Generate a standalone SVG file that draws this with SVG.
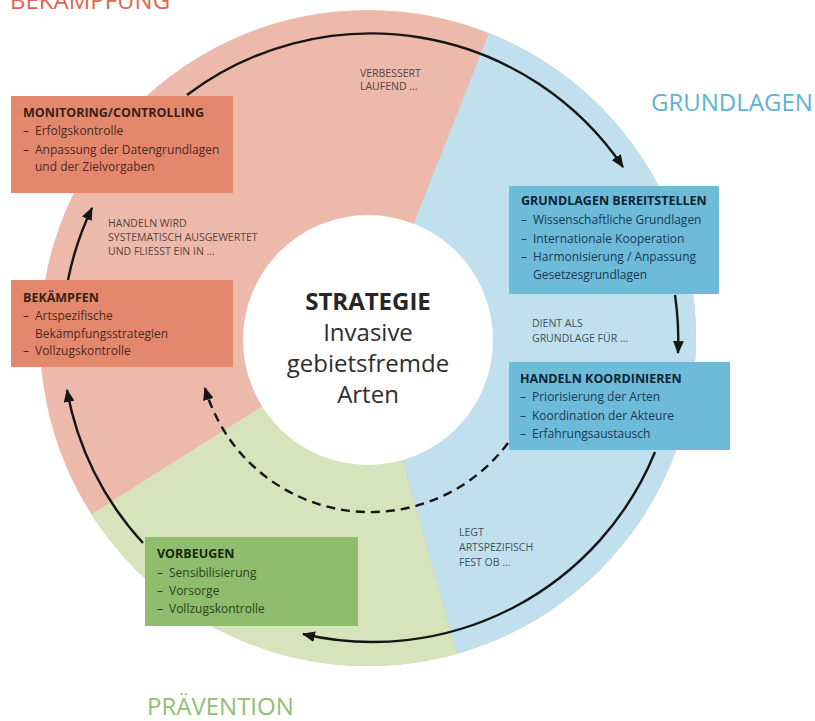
<svg xmlns="http://www.w3.org/2000/svg" width="815" height="721" viewBox="0 0 815 721">
<style>
text{font-family:"Open Sans","Liberation Sans",sans-serif;}
.title{font-size:24px;}
.bh{font-size:12.5px;font-weight:bold;}
.bt{font-size:12px;}
.lbl{font-size:10.5px;}
.pinkbox{fill:#e4886d;}
.bluebox{fill:#6dbad9;}
.greenbox{fill:#8ebd6d;}
.pinkbox-t{fill:#3a1f18;}
.pinkbox-b{fill:#4e2a20;}
.bluebox-t{fill:#0f2431;}
.bluebox-b{fill:#1a3b50;}
.greenbox-t{fill:#18260e;}
.greenbox-b{fill:#2c421c;}
.arc{fill:none;stroke:#151515;stroke-width:2.4;marker-end:url(#ah);}
.dash{stroke-dasharray:9 6;}
</style>
<defs>
<clipPath id="cc"><circle cx="368" cy="338" r="328"/></clipPath>
<marker id="ah" viewBox="0 0 12 10" refX="11" refY="5" markerUnits="userSpaceOnUse" markerWidth="13" markerHeight="11" orient="auto">
<path d="M0,0 L12,5 L0,10 Z" fill="#151515"/>
</marker>
</defs>
<rect width="815" height="721" fill="#ffffff"/>
<g id="wheel">
<circle cx="368" cy="338" r="328" fill="#ecb9ab"/>
<g clip-path="url(#cc)">
<polygon points="368,339 506,-10 815,-10 815,721 476,721" fill="#bfe0ec"/>
<polygon points="368,339 476,721 0,721 0,572" fill="#d6e3bb"/>
</g>
<circle cx="368" cy="340" r="125" fill="#ffffff"/>
</g>
<g id="sector-titles">
<text x="10" y="9" class="title" fill="#e0654e">BEKÄMPFUNG</text>
<text x="651" y="111" class="title" fill="#5cb3d2">GRUNDLAGEN</text>
<text x="147" y="715" class="title" fill="#8fbf72">PRÄVENTION</text>
</g>
<g id="center">
<text x="368" y="310" text-anchor="middle" font-size="24" font-weight="bold" fill="#262626">STRATEGIE</text>
<text x="368" y="341" text-anchor="middle" font-size="24" fill="#2e2e2e">Invasive</text>
<text x="368" y="372" text-anchor="middle" font-size="24" fill="#2e2e2e">gebietsfremde</text>
<text x="368" y="403" text-anchor="middle" font-size="24" fill="#2e2e2e">Arten</text>
</g>
<g id="connectors">
<path class="arc" d="M187,95 A305,305 0 0 1 623,167"/>
<path class="arc" d="M675,295 A310,310 0 0 1 678,353"/>
<path class="arc" d="M655,452 A305,305 0 0 1 303,634"/>
<path class="arc" d="M143,543 A305,305 0 0 1 67,390"/>
<path class="arc" d="M68,280 A305,305 0 0 1 92,208"/>
<path class="arc dash" d="M508,443 A172,172 0 0 1 205,388"/>
</g>
<g id="labels">
<text class="lbl" fill="#5a4440"><tspan x="360" y="77">VERBESSERT</tspan><tspan x="360" y="90">LAUFEND ...</tspan></text>
<text class="lbl" fill="#5a4440"><tspan x="108" y="227">HANDELN WIRD</tspan><tspan x="108" y="241">SYSTEMATISCH AUSGEWERTET</tspan><tspan x="108" y="255">UND FLIESST EIN IN ...</tspan></text>
<text class="lbl" fill="#3e5260"><tspan x="532" y="327">DIENT ALS</tspan><tspan x="532" y="342">GRUNDLAGE FÜR ...</tspan></text>
<text class="lbl" fill="#3e5260"><tspan x="459" y="536">LEGT</tspan><tspan x="459" y="551">ARTSPEZIFISCH</tspan><tspan x="459" y="566">FEST OB ...</tspan></text>
</g>
<g id="monitoring">
<rect x="11" y="96" width="222" height="97" class="pinkbox"/>
<text x="23" y="117" class="bh pinkbox-t">MONITORING/CONTROLLING</text>
<text class="bt pinkbox-b"><tspan x="23" y="135">–</tspan><tspan x="35" y="135">Erfolgskontrolle</tspan><tspan x="23" y="154">–</tspan><tspan x="35" y="154">Anpassung der Datengrundlagen</tspan><tspan x="35" y="171">und der Zielvorgaben</tspan></text>
</g>
<g id="bekaempfen">
<rect x="11" y="280" width="222" height="87" class="pinkbox"/>
<text x="23" y="302" class="bh pinkbox-t">BEKÄMPFEN</text>
<text class="bt pinkbox-b"><tspan x="23" y="320">–</tspan><tspan x="35" y="320">Artspezifische</tspan><tspan x="35" y="338">Bekämpfungsstrategien</tspan><tspan x="23" y="355">–</tspan><tspan x="35" y="355">Vollzugskontrolle</tspan></text>
</g>
<g id="grundlagen-bereitstellen">
<rect x="509" y="186" width="210" height="108" class="bluebox"/>
<text x="521" y="205" class="bh bluebox-t">GRUNDLAGEN BEREITSTELLEN</text>
<text class="bt bluebox-b"><tspan x="521" y="224">–</tspan><tspan x="533" y="224">Wissenschaftliche Grundlagen</tspan><tspan x="521" y="243">–</tspan><tspan x="533" y="243">Internationale Kooperation</tspan><tspan x="521" y="261">–</tspan><tspan x="533" y="261">Harmonisierung / Anpassung</tspan><tspan x="533" y="279">Gesetzesgrundlagen</tspan></text>
</g>
<g id="handeln-koordinieren">
<rect x="509" y="362" width="221" height="88" class="bluebox"/>
<text x="520" y="383" class="bh bluebox-t">HANDELN KOORDINIEREN</text>
<text class="bt bluebox-b"><tspan x="520" y="401">–</tspan><tspan x="532" y="401">Priorisierung der Arten</tspan><tspan x="520" y="420">–</tspan><tspan x="532" y="420">Koordination der Akteure</tspan><tspan x="520" y="438">–</tspan><tspan x="532" y="438">Erfahrungsaustausch</tspan></text>
</g>
<g id="vorbeugen">
<rect x="145" y="537" width="213" height="89" class="greenbox"/>
<text x="157" y="558" class="bh greenbox-t">VORBEUGEN</text>
<text class="bt greenbox-b"><tspan x="157" y="577">–</tspan><tspan x="169" y="577">Sensibilisierung</tspan><tspan x="157" y="595">–</tspan><tspan x="169" y="595">Vorsorge</tspan><tspan x="157" y="613">–</tspan><tspan x="169" y="613">Vollzugskontrolle</tspan></text>
</g>
</svg>
